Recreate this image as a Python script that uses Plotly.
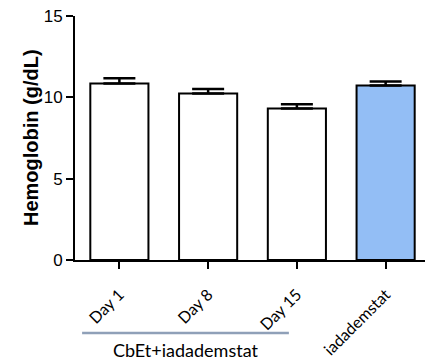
import plotly.graph_objects as go

categories = ["Day 1", "Day 8", "Day 15", "iadademstat"]
values = [10.85, 10.24, 9.32, 10.72]
errors = [0.33, 0.27, 0.25, 0.25]
colors = ["white", "white", "white", "#93BEF5"]
y_ticks = [0, 5, 10, 15]
y_title = "Hemoglobin (g/dL)"
group_label = "CbEt+iadademstat"

fig = go.Figure()
fig.add_trace(go.Bar(
    x=categories, y=values,
    marker=dict(color=colors, line=dict(color="black", width=2)),
    width=0.655,
    error_y=dict(type="data", array=errors, symmetric=False, arrayminus=[0]*4,
                 color="black", thickness=2.5, width=16),
))

# page body has an 8px default margin, so margins are compensated
fig.update_layout(
    width=433, height=360,
    margin=dict(l=67, r=11, t=8, b=108, autoexpand=False),
    plot_bgcolor="white", paper_bgcolor="white",
    showlegend=False,
    font=dict(family="Arial", color="black"),
    xaxis=dict(
        range=[-0.5, 3.5], showline=True, linecolor="black", linewidth=2,
        ticks="outside", ticklen=7, tickwidth=2, tickcolor="black",
        tickangle=-45, tickfont=dict(family="Lato", size=16),
        ticklabelstandoff=10,
        showgrid=False, zeroline=False, automargin=False, ticklabeloverflow="allow",
    ),
    yaxis=dict(
        range=[0, 15], tickvals=y_ticks, showline=True, linecolor="black", linewidth=2,
        ticks="outside", ticklen=7, tickwidth=2, tickcolor="black",
        tickfont=dict(family="Arial", size=17),
        showgrid=False, zeroline=False, automargin=False, ticklabeloverflow="allow",
    ),
)

fig.add_annotation(text="<b>" + y_title + "</b>", xref="paper", yref="paper", x=0, y=0.5,
                   xanchor="center", yanchor="middle", xshift=-44, textangle=-90,
                   showarrow=False, font=dict(family="Arial", size=20, color="black"))
fig.add_shape(type="line", xref="x", yref="paper", x0=-0.42, x1=1.91, y0=-0.299, y1=-0.299,
              line=dict(color="#8FA0B8", width=2.5))
fig.add_annotation(text=group_label, xref="x", yref="paper", x=0.74, y=-0.369,
                   xanchor="center", yanchor="middle",
                   showarrow=False, font=dict(family="Lato", size=18, color="black"))

fig.write_html("out.html")
